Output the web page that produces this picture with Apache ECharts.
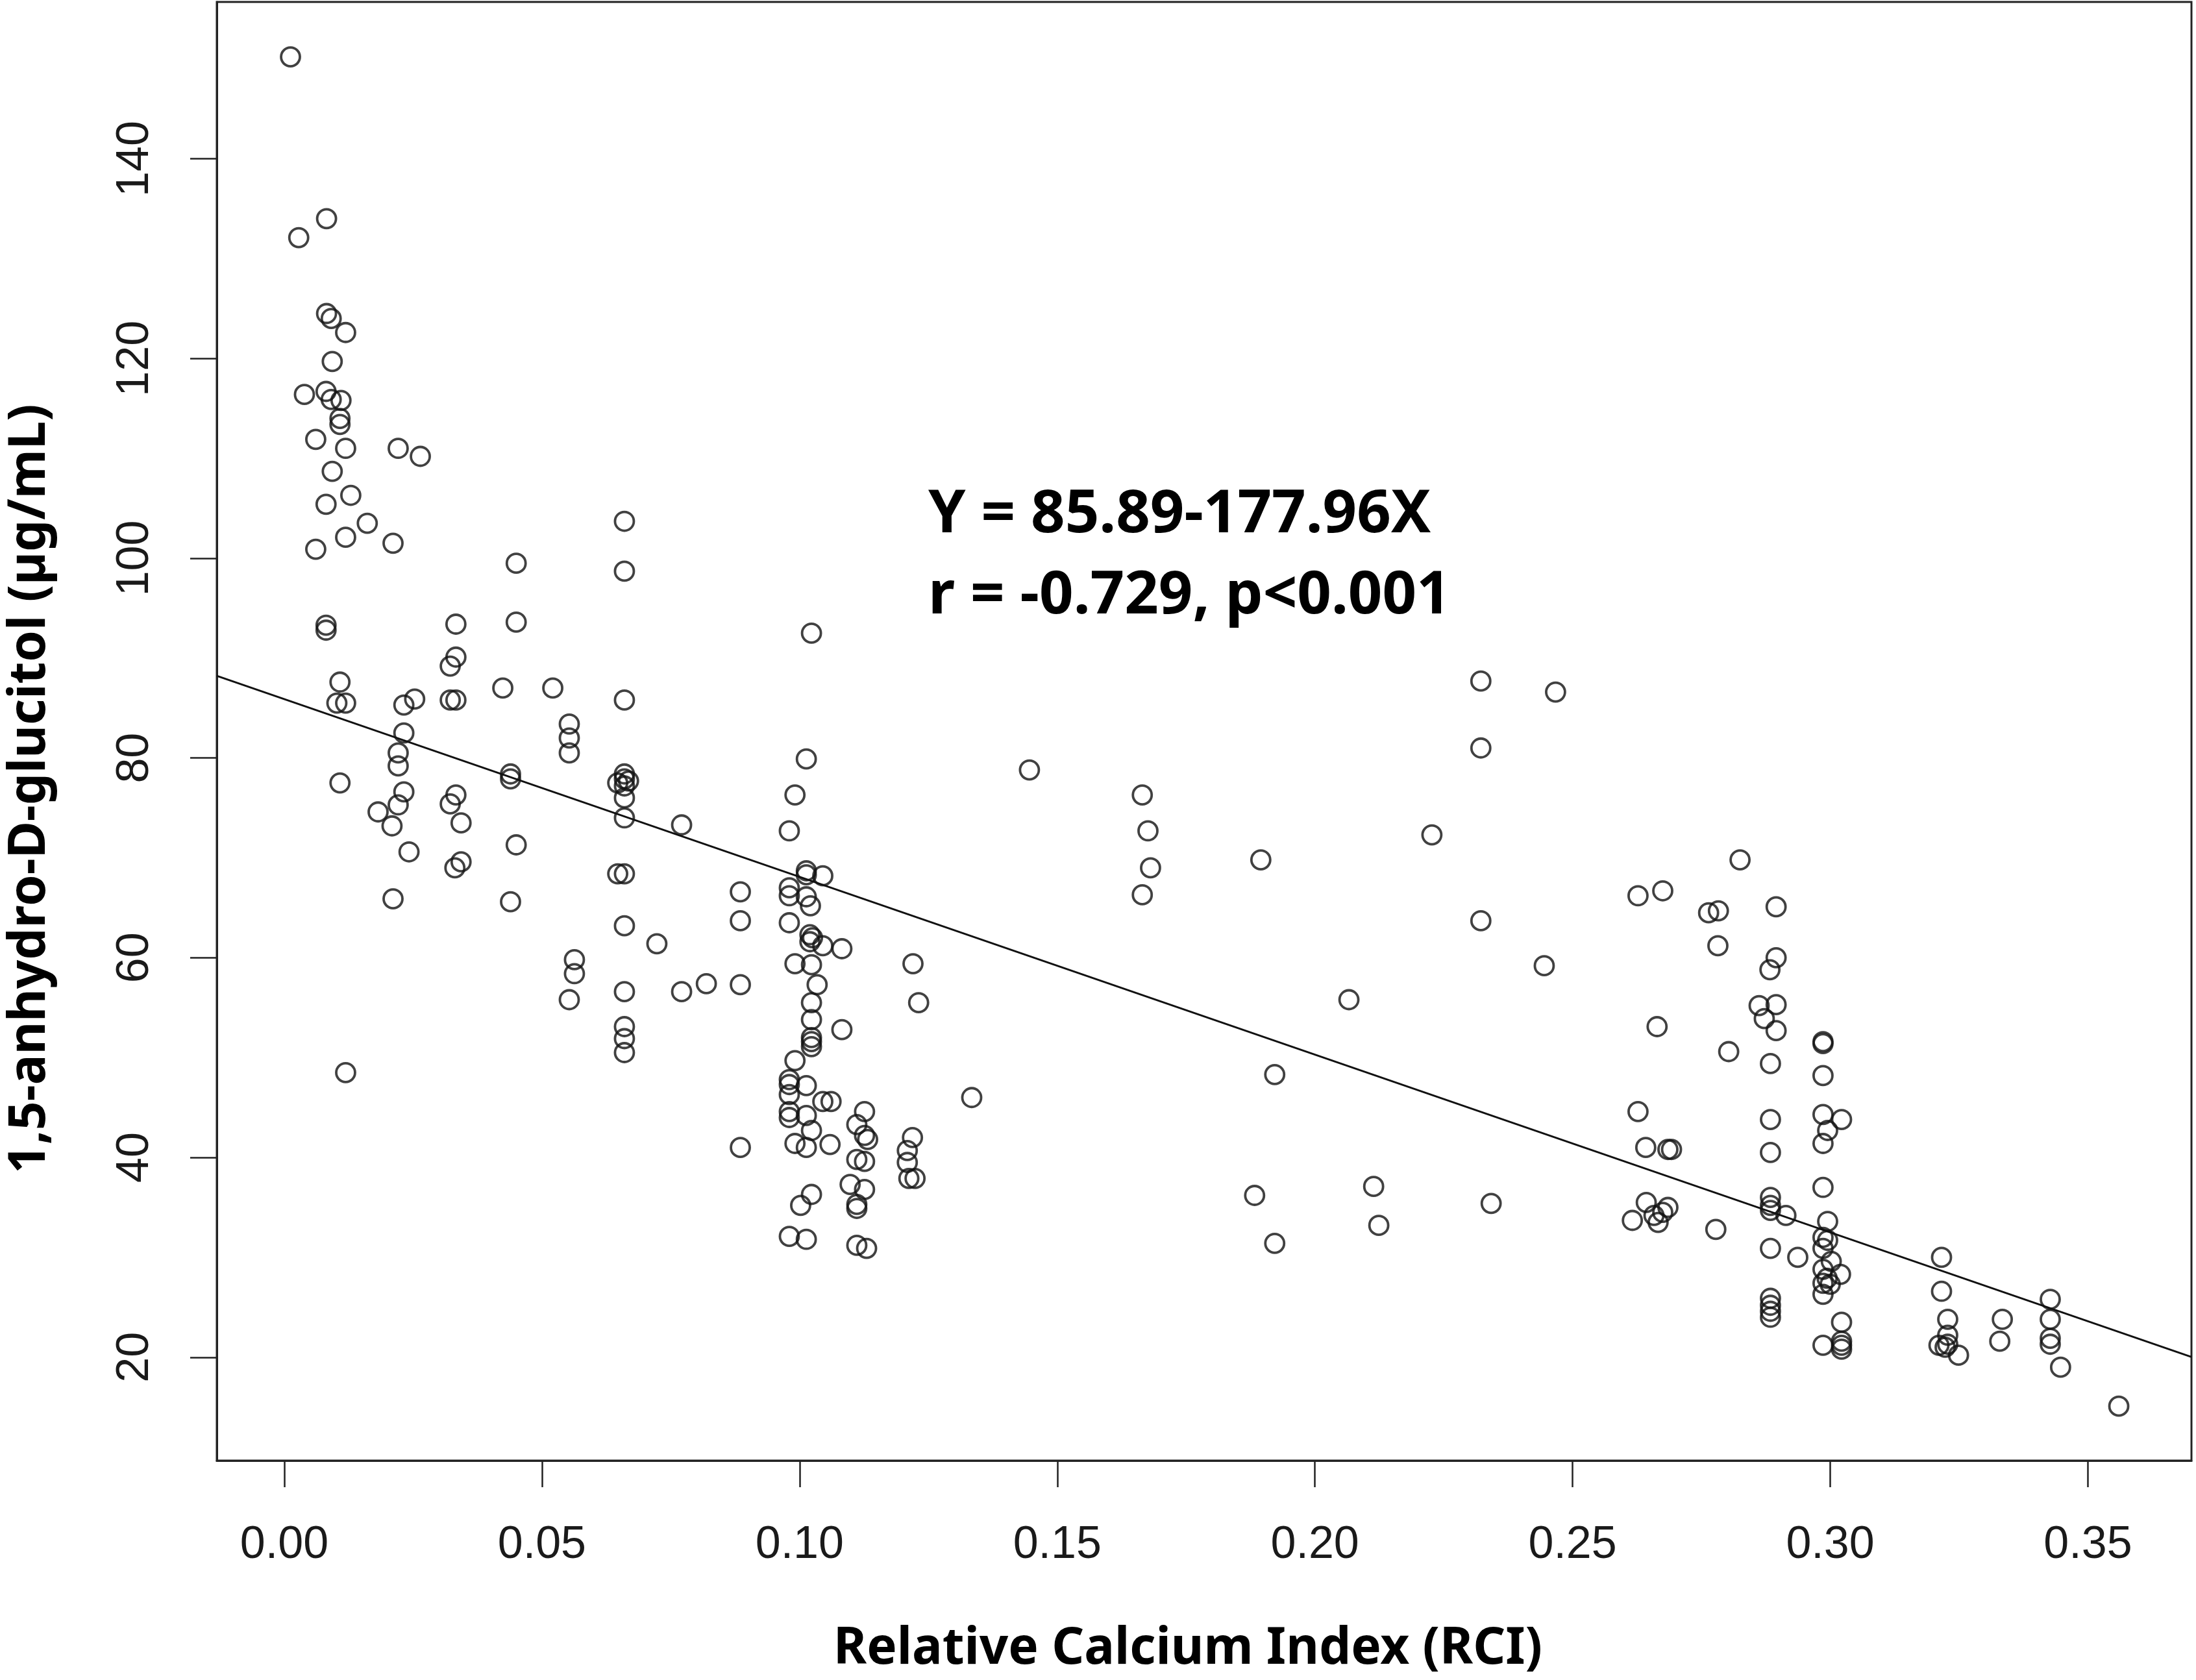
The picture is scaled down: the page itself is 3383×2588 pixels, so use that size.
<!DOCTYPE html>
<html>
<head>
<meta charset="utf-8">
<script src="https://cdn.jsdelivr.net/npm/echarts@6/dist/echarts.min.js"></script>
<style>
html,body{margin:0;padding:0;background:#fff;}
#chart{width:3383px;height:2588px;}
</style>
</head>
<body>
<div id="chart"></div>
<script>
// Relative Calcium Index (x) and 1,5-anhydro-D-glucitol (y), paired by index
const rci = [
0.0012,0.0082,0.0028,0.0082,0.0091,0.0119,0.0093,0.0039,0.0081,0.0091,0.0110,0.0108,0.0108,0.0061,0.0119,0.0221,0.0264,0.0093,0.0129,0.0081,
0.0161,0.0119,0.0061,0.0211,0.0081,0.0081,0.0108,0.0102,0.0119,0.0108,0.0119,0.0232,0.0253,0.0232,0.0221,0.0221,0.0232,0.0221,0.0182,0.0209,
0.0242,0.0211,0.0333,0.0333,0.0322,0.0322,0.0333,0.0333,0.0322,0.0343,0.0343,0.0331,0.0450,0.0450,0.0424,0.0439,0.0439,0.0450,0.0439,0.0521,
0.0553,0.0553,0.0553,0.0563,0.0563,0.0553,0.0660,0.0660,0.0660,0.0660,0.0660,0.0668,0.0647,0.0660,0.0660,0.0660,0.0647,0.0660,0.0660,0.0660,
0.0660,0.0660,0.0660,0.0723,0.0771,0.0771,0.0819,0.0885,0.0885,0.0885,0.0885,
0.1023,0.1013,0.0991,0.0980,0.1013,0.1013,0.1045,0.0980,0.0980,0.1013,0.1021,0.0980,0.1020,0.1025,0.1020,0.1045,0.1082,0.0991,0.1023,0.1034,
0.1023,0.1023,0.1082,0.1023,0.1023,0.1023,0.0991,0.0980,0.0980,0.1013,0.0980,0.1045,0.1061,0.0980,0.0980,0.1013,0.1126,0.1023,0.1111,0.1126,
0.0991,0.1013,0.1059,0.1132,0.1111,0.1126,0.1209,0.1219,0.1209,0.1212,0.1224,0.1098,0.1126,0.1111,0.1111,0.1002,0.1023,0.0980,0.1013,0.1111,
0.1130,0.1220,0.1231,
0.1334,0.1446,0.1665,0.1676,0.1681,0.1665,0.1895,0.1922,0.1883,0.1922,0.2066,0.2114,0.2124,0.2227,0.2322,0.2322,0.2322,0.2342,0.2445,0.2467,
0.2825,0.2627,0.2675,0.2764,0.2783,0.2782,0.2664,0.2803,0.2627,0.2642,0.2692,0.2685,0.2643,0.2685,0.2616,0.2658,0.2675,0.2666,0.2778,
0.2895,0.2895,0.2883,0.2862,0.2895,0.2872,0.2895,0.2884,0.2884,0.2884,0.2884,0.2884,0.2884,0.2914,0.2884,0.2937,0.2884,0.2884,0.2884,0.2884,
0.2986,0.2986,0.2986,0.2986,0.3022,0.2995,0.2986,0.2986,0.2995,0.2986,0.2995,0.2986,0.3002,0.2986,0.3020,0.2994,0.2986,0.3000,0.2986,0.3022,
0.2986,0.3022,0.3022,0.3022,
0.3216,0.3216,0.3228,0.3228,0.3211,0.3223,0.3228,0.3249,0.3334,0.3329,0.3427,0.3427,0.3427,0.3427,0.3447,0.3560
];
const ag = [
150.2,134.0,132.1,124.5,124.0,122.6,119.7,116.4,116.7,115.9,115.8,114.0,113.4,111.9,111.0,111.0,110.2,108.7,106.3,105.4,
103.5,102.1,100.9,101.5,93.3,92.8,87.6,85.5,85.5,77.5,48.5,85.3,85.9,82.5,80.5,79.2,76.6,75.3,74.6,73.2,
70.6,65.9,93.4,90.1,89.2,85.8,85.8,76.3,75.4,73.5,69.6,69.0,99.5,93.6,87.0,78.4,77.9,71.3,65.6,87.0,
83.4,82.0,80.5,59.8,58.4,55.8,103.7,98.7,85.8,78.4,77.9,77.7,77.5,77.2,76.0,74.0,68.4,68.4,63.2,56.6,
53.1,51.9,50.5,61.4,73.3,56.6,57.4,66.6,63.7,57.3,41.0,
92.5,79.9,76.3,72.7,68.7,68.3,68.2,67.0,66.2,66.1,65.2,63.5,62.3,62.0,61.6,61.2,60.9,59.4,59.3,57.3,
55.5,53.8,52.8,52.0,51.6,51.1,49.7,47.8,47.3,47.2,46.3,45.6,45.6,44.6,44.0,44.2,44.6,42.7,43.3,42.2,
41.4,41.0,41.3,41.8,39.8,39.6,40.7,42.0,39.5,37.9,37.9,37.3,36.8,35.3,34.9,35.2,36.3,32.1,31.8,31.2,
30.9,59.4,55.5,
46.0,78.8,76.3,72.7,69.0,66.3,69.8,48.3,36.2,31.4,55.8,37.1,33.2,72.3,87.7,81.0,63.7,35.4,59.2,86.6,
69.8,66.2,66.7,64.5,64.7,61.2,53.1,50.6,44.6,41.0,40.8,40.8,35.5,35.0,33.7,34.2,34.5,33.5,32.8,
65.1,60.0,58.8,55.2,55.3,53.9,52.7,49.4,43.8,40.5,36.0,35.2,34.7,34.2,30.9,30.0,25.9,25.2,24.6,24.0,
51.6,51.4,48.2,44.3,43.8,42.7,41.4,37.0,33.6,32.0,31.7,30.9,29.6,28.8,28.3,27.9,27.4,27.3,26.3,23.5,
21.2,21.6,21.2,20.8,
30.0,26.6,23.8,22.2,21.2,21.0,21.3,20.2,23.8,21.6,25.8,23.8,21.9,21.3,19.0,15.1
];
const xTicks = [0.00,0.05,0.10,0.15,0.20,0.25,0.30,0.35];
const yTicks = [20,40,60,80,100,120,140];
const fitIntercept = 85.89;
const fitSlope = -177.96;
const eqText = 'Y = 85.89-177.96X';
const statText = 'r = -0.729, p<0.001';
const xName = 'Relative Calcium Index (RCI)';
const yName = '1,5-anhydro-D-glucitol (µg/mL)';

const xMin = -0.0131, xMax = 0.3701, yMin = 9.65, yMax = 155.7;
const points = rci.map((x, i) => [x, ag[i]]);
const fitLine = [[xMin, fitIntercept + fitSlope * xMin], [xMax, fitIntercept + fitSlope * xMax]];

const chart = echarts.init(document.getElementById('chart'));
chart.setOption({
  animation: false,
  backgroundColor: '#ffffff',
  grid: {left: 334, right: 7, top: 3, bottom: 338, show: true, borderColor: '#222', borderWidth: 3, backgroundColor: 'transparent'},
  xAxis: {
    type: 'value', min: xMin, max: xMax, position: 'bottom',
    axisLine: {show: true, onZero: false, lineStyle: {color: '#222', width: 3}},
    splitLine: {show: false},
    axisTick: {show: true, length: 41, lineStyle: {color: '#222', width: 2.5}, customValues: xTicks},
    axisLabel: {show: true, customValues: xTicks, formatter: v => v.toFixed(2), fontFamily: 'Liberation Sans', fontSize: 70, color: '#1a1a1a', margin: 96}
  },
  yAxis: {
    type: 'value', min: yMin, max: yMax, position: 'left',
    axisLine: {show: true, onZero: false, lineStyle: {color: '#222', width: 3}},
    splitLine: {show: false},
    axisTick: {show: true, length: 41, lineStyle: {color: '#222', width: 2.5}, customValues: yTicks},
    axisLabel: {show: true, customValues: yTicks, rotate: 90, fontFamily: 'Liberation Sans', fontSize: 70, color: '#1a1a1a', margin: 90}
  },
  graphic: [
    {type: 'text', x: 1830, y: 2541, style: {text: xName, font: 'bold 78px "Noto Sans"', fill: '#000', align: 'center', verticalAlign: 'middle'}},
    {type: 'text', x: 47, y: 1215, rotation: Math.PI / 2, style: {text: yName, font: 'bold 78px "Noto Sans"', fill: '#000', align: 'center', verticalAlign: 'middle'}},
    {type: 'text', x: 1430, y: 794, style: {text: eqText, font: 'bold 92px "Noto Sans"', fill: '#000', align: 'left', verticalAlign: 'middle'}},
    {type: 'text', x: 1430, y: 919, style: {text: statText, font: 'bold 92px "Noto Sans"', fill: '#000', align: 'left', verticalAlign: 'middle'}}
  ],
  series: [
    {type: 'line', data: fitLine, symbol: 'none', lineStyle: {color: '#111', width: 3}, z: 2, silent: true},
    {type: 'scatter', data: points, symbol: 'circle', symbolSize: 29,
     itemStyle: {color: 'rgba(0,0,0,0)', borderColor: '#111', borderWidth: 3.8}, z: 3, silent: true}
  ]
});
</script>
</body>
</html>
